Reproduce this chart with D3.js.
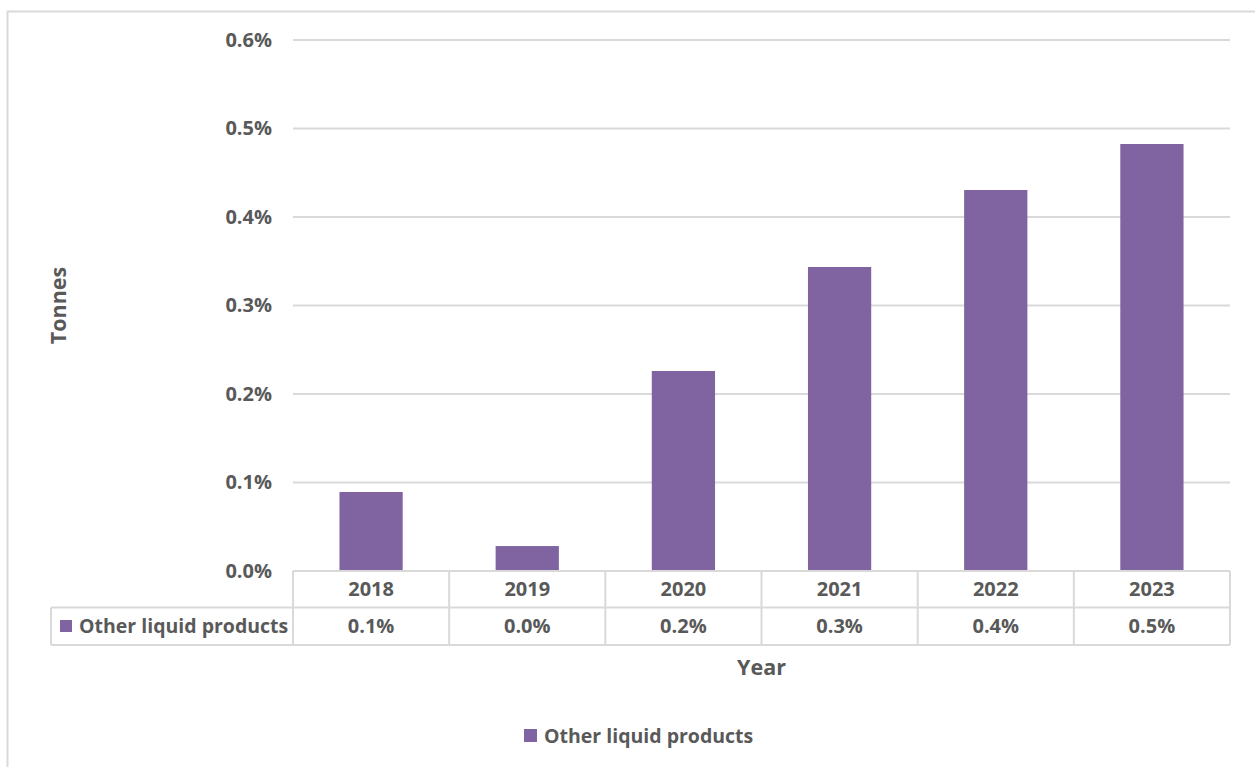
<!DOCTYPE html>
<html>
<head>
<meta charset="utf-8">
<script src="https://cdn.jsdelivr.net/npm/d3@7"></script>
<style>
  html, body { margin: 0; padding: 0; background: #fff; }
  svg text { font-family: "Open Sans", "DejaVu Sans", sans-serif; font-weight: 700; fill: #595959; }
</style>
</head>
<body>
<svg id="chart" width="1255" height="767"></svg>
<script>
// Share of other liquid products by year
const years = ["2018", "2019", "2020", "2021", "2022", "2023"];
const seriesName = "Other liquid products";
const shares = [0.000893, 0.000282, 0.00226, 0.003435, 0.004305, 0.004825];
const yTicks = [0, 0.001, 0.002, 0.003, 0.004, 0.005, 0.006];
const yTitle = "Tonnes";
const xTitle = "Year";

const barColor = "#8064a2";
const gridColor = "#d9d9d9";
const numSize = 20;     // tick and table numbers
const labelSize = 19.5; // series names
const titleSize = 21.5; // axis titles

const svg = d3.select("#chart");

// chart frame
svg.append("rect")
  .attr("x", 7.5).attr("y", 11.5)
  .attr("width", 1260).attr("height", 770)
  .attr("fill", "#fff")
  .attr("stroke", gridColor).attr("stroke-width", 2);

const plot = { left: 293, right: 1230, top: 40, bottom: 571 };

const x = d3.scaleBand()
  .domain(years)
  .range([plot.left, plot.right]);

const y = d3.scaleLinear()
  .domain([0, 0.006])
  .range([plot.bottom, plot.top]);

const pct = d3.format(".1%");

// horizontal gridlines
svg.append("g")
  .selectAll("line")
  .data(yTicks)
  .join("line")
  .attr("x1", plot.left).attr("x2", plot.right)
  .attr("y1", d => y(d)).attr("y2", d => y(d))
  .attr("stroke", gridColor).attr("stroke-width", 2);

// y axis labels
const yAxis = d3.axisLeft(y).tickValues(yTicks).tickFormat(pct).tickSize(0).tickPadding(0);
const yg = svg.append("g")
  .attr("transform", `translate(${plot.left - 21},0)`)
  .call(yAxis);
yg.select(".domain").remove();
yg.selectAll("text")
  .attr("font-size", numSize)
  .attr("font-family", null)
  .attr("fill", "#595959");

// bars
const barW = x.bandwidth() * 0.405;
svg.append("g")
  .selectAll("rect")
  .data(years.map((yr, i) => ({ yr, v: shares[i] })))
  .join("rect")
  .attr("x", d => x(d.yr) + (x.bandwidth() - barW) / 2)
  .attr("y", d => y(d.v))
  .attr("width", barW)
  .attr("height", d => y(0) - y(d.v))
  .attr("fill", barColor);

// data table under the plot
const row1Top = plot.bottom, row1Bot = 607.5, row2Bot = 645;
const tableLeft = 51;
const tbl = svg.append("g")
  .attr("stroke", gridColor).attr("stroke-width", 2).attr("fill", "none");

// horizontal rules
tbl.append("line").attr("x1", plot.left).attr("x2", plot.right).attr("y1", row1Top).attr("y2", row1Top);
tbl.append("line").attr("x1", tableLeft).attr("x2", plot.right).attr("y1", row1Bot).attr("y2", row1Bot);
tbl.append("line").attr("x1", tableLeft).attr("x2", plot.right).attr("y1", row2Bot).attr("y2", row2Bot);
// vertical rules
const vx = years.map(yr => x(yr)).concat([plot.right]);
tbl.selectAll("line.v")
  .data(vx)
  .join("line")
  .attr("class", "v")
  .attr("x1", d => d).attr("x2", d => d)
  .attr("y1", row1Top).attr("y2", row2Bot);
tbl.append("line").attr("x1", tableLeft).attr("x2", tableLeft).attr("y1", row1Bot).attr("y2", row2Bot);

// year headings
svg.append("g")
  .selectAll("text")
  .data(years)
  .join("text")
  .attr("x", d => x(d) + x.bandwidth() / 2)
  .attr("y", (row1Top + row1Bot) / 2)
  .attr("dy", "0.35em")
  .attr("text-anchor", "middle")
  .attr("font-size", numSize)
  .text(d => d);

// value row
svg.append("g")
  .selectAll("text")
  .data(shares)
  .join("text")
  .attr("x", (d, i) => x(years[i]) + x.bandwidth() / 2)
  .attr("y", (row1Bot + row2Bot) / 2)
  .attr("dy", "0.35em")
  .attr("text-anchor", "middle")
  .attr("font-size", numSize)
  .text(d => pct(d));

// series key inside the table
svg.append("rect")
  .attr("x", 60).attr("y", 620).attr("width", 12).attr("height", 12)
  .attr("fill", barColor);
svg.append("text")
  .attr("x", 79).attr("y", (row1Bot + row2Bot) / 2)
  .attr("dy", "0.35em")
  .attr("font-size", labelSize)
  .text(seriesName);

// axis titles
svg.append("text")
  .attr("x", (plot.left + plot.right) / 2)
  .attr("y", 667)
  .attr("dy", "0.35em")
  .attr("text-anchor", "middle")
  .attr("font-size", titleSize)
  .text(xTitle);

svg.append("text")
  .attr("transform", `translate(58,${(plot.top + plot.bottom) / 2}) rotate(-90)`)
  .attr("dy", "0.35em")
  .attr("text-anchor", "middle")
  .attr("font-size", titleSize)
  .text(yTitle);

// bottom legend
svg.append("rect")
  .attr("x", 524).attr("y", 729).attr("width", 13).attr("height", 13)
  .attr("fill", barColor);
svg.append("text")
  .attr("x", 544).attr("y", 736)
  .attr("dy", "0.35em")
  .attr("font-size", labelSize)
  .text(seriesName);
</script>
</body>
</html>
